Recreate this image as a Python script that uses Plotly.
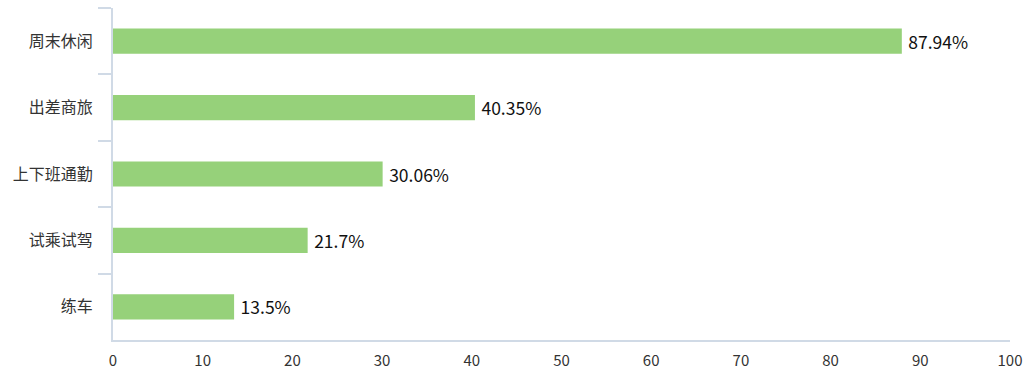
import plotly.graph_objects as go

categories = ["周末休闲", "出差商旅", "上下班通勤", "试乘试驾", "练车"]
values = [87.94, 40.35, 30.06, 21.7, 13.5]
labels = ["87.94%", "40.35%", "30.06%", "21.7%", "13.5%"]
x_ticks = [0, 10, 20, 30, 40, 50, 60, 70, 80, 90, 100]

FONT = "Noto Sans CJK SC, Microsoft YaHei, sans-serif"
AXIS_COLOR = "#d0dae6"

fig = go.Figure(
    go.Bar(
        x=values,
        y=categories,
        orientation="h",
        marker=dict(color="#96d17a", line=dict(width=0)),
        text=labels,
        texttemplate="\u2009%{text}",
        textposition="outside",
        textfont=dict(color="#111111", size=17.5, family=FONT),
        cliponaxis=False,
        width=0.38,
        hoverinfo="skip",
    )
)

fig.update_layout(
    width=1028,
    height=389,
    margin=dict(l=113, r=18, t=8, b=49, autoexpand=False),
    paper_bgcolor="white",
    plot_bgcolor="white",
    showlegend=False,
    font=dict(family=FONT, color="#333333"),
    xaxis=dict(
        range=[0, 100],
        tickvals=x_ticks,
        showgrid=False,
        zeroline=False,
        showline=True,
        linecolor=AXIS_COLOR,
        linewidth=2,
        ticks="",
        ticklabelstandoff=6,
        tickfont=dict(size=15, color="#333333"),
    ),
    yaxis=dict(
        categoryorder="array",
        categoryarray=categories,
        autorange="reversed",
        showgrid=False,
        zeroline=False,
        showline=True,
        linecolor=AXIS_COLOR,
        linewidth=2,
        ticks="outside",
        tickson="boundaries",
        ticklen=13,
        tickcolor=AXIS_COLOR,
        tickwidth=2,
        ticklabelstandoff=15,
        tickfont=dict(size=16, color="#333333"),
    ),
)

fig.write_html(
    "out.html",
    config={"displayModeBar": False, "staticPlot": True},
    post_script="document.body.style.margin='0';document.body.style.overflow='hidden';",
)
